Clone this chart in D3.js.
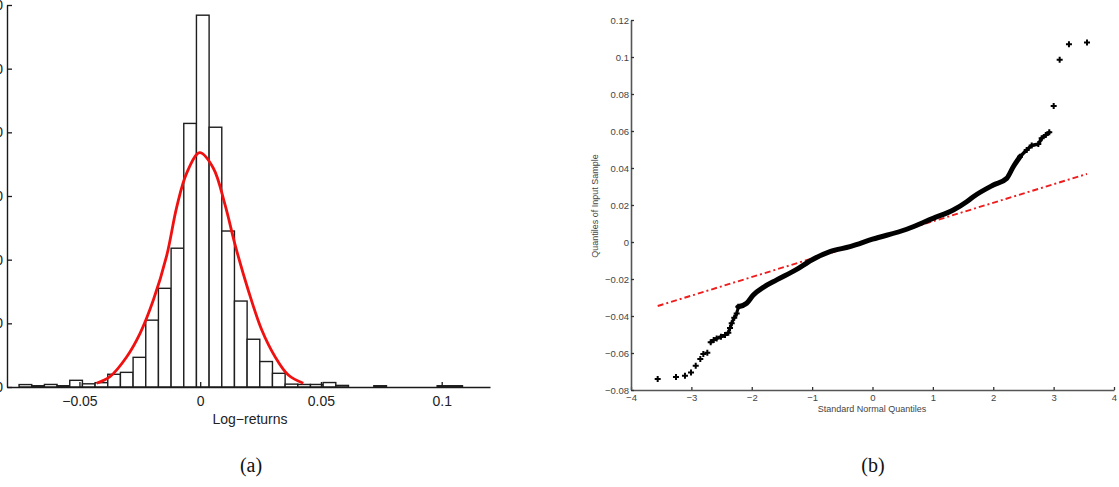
<!DOCTYPE html>
<html>
<head>
<meta charset="utf-8">
<script src="https://cdn.jsdelivr.net/npm/d3@7"></script>
<style>
  body { margin: 0; background: #fff; }
  svg { display: block; }
</style>
</head>
<body>
<div id="chart"></div>
<script>
"use strict";

// (a) histogram of log-returns, density per bin (35 equal bins)
let binStart = -0.0750;
let binWidth = 0.005246;
let binDensity = [0.38, 0.2, 0.4, 0.2, 1.05, 0.5, 0.68, 2.0, 2.3, 4.66,
                  10.5, 15.5, 21.8, 41.4, 58.4, 40.8, 24.5, 13.5, 7.5, 4.0,
                  2.15, 0.45, 0.4, 0.4, 0.7, 0.25, 0, 0, 0.2, 0,
                  0, 0, 0, 0.2, 0.2];

// fitted normal curve
let fitX = [-0.0429, -0.0374, -0.0304, -0.0249, -0.0194, -0.0139, -0.0097, -0.0056,
            -0.0002, 0.0054, 0.0103, 0.0144, 0.0199, 0.0255, 0.0310, 0.0365, 0.0427];
let fitY = [0.58, 1.62, 4.76, 8.43, 13.66, 20.6, 28.3, 33.6,
            36.8, 34.4, 28.6, 22.4, 15.2, 8.95, 4.76, 1.88, 0.58];

let histXTicks = [-0.05, 0, 0.05, 0.1];
let histXTickLabels = ["\u22120.05", "0", "0.05", "0.1"];
let histYTicks = [0, 10, 20, 30, 40, 50, 60];

// (b) normal QQ plot
let qqLowTailX = [-3.558, -3.255, -3.106, -3.006, -2.928, -2.852, -2.802, -2.736];
let qqLowTailY = [-0.0741, -0.0730, -0.0723, -0.0706, -0.0669, -0.0632, -0.0605, -0.0598];
let qqLowBodyX = [-2.680, -2.630, -2.581, -2.510, -2.443, -2.388, -2.360, -2.332, -2.290, -2.249, -2.222];
let qqLowBodyY = [-0.0542, -0.0530, -0.0521, -0.0512, -0.0503, -0.0490, -0.0465, -0.0439, -0.0410, -0.0386, -0.0350];
let qqMidX = [-2.222, -2.084, -1.974, -1.809, -1.587, -1.256, -1.007, -0.704, -0.373, 0.0,
              0.566, 1.002, 1.338, 1.560, 1.670, 2.001, 2.223, 2.332, 2.443];
let qqMidY = [-0.0350, -0.0331, -0.0286, -0.0245, -0.0205, -0.0148, -0.0097, -0.0052, -0.0025, 0.0015,
              0.0069, 0.0128, 0.0173, 0.0218, 0.0245, 0.0308, 0.0344, 0.0407, 0.0461];
let qqHighBodyX = [2.443, 2.554, 2.637, 2.746, 2.802, 2.870, 2.928];
let qqHighBodyY = [0.0461, 0.0497, 0.0521, 0.0530, 0.0561, 0.0578, 0.0593];
let qqHighTailX = [3.001, 3.100, 3.254, 3.553];
let qqHighTailY = [0.0735, 0.0985, 0.1069, 0.1079];

// reference line ends
let refLineX = [-3.558, 3.553];
let refLineY = [-0.0346, 0.0368];

let qqXTicks = [-4, -3, -2, -1, 0, 1, 2, 3, 4];
let qqYTicks = [-0.08, -0.06, -0.04, -0.02, 0, 0.02, 0.04, 0.06, 0.08, 0.1, 0.12];

let width = 1119, height = 487;

let svg = d3.select("#chart").append("svg")
  .attr("width", width)
  .attr("height", height);

// ---------- (a) histogram ----------
let hx = d3.scaleLinear().domain([-0.08, 0.12]).range([7, 490]);
let hy = d3.scaleLinear().domain([0, 60]).range([387, 5]);

let histG = svg.append("g");

histG.selectAll("rect.bin").data(binDensity)
  .enter().append("rect")
    .attr("class", "bin")
    .attr("x", function (d, i) { return hx(binStart + i * binWidth); })
    .attr("width", function (d, i) { return hx(binStart + (i + 1) * binWidth) - hx(binStart + i * binWidth); })
    .attr("y", function (d) { return hy(d); })
    .attr("height", function (d) { return hy(0) - hy(d); })
    .style("fill", "#fff")
    .style("stroke", d3.rgb(30, 30, 30))
    .style("stroke-width", 1.4);

let fitLine = d3.line()
  .x(function (d) { return hx(d[0]); })
  .y(function (d) { return hy(d[1]); })
  .curve(d3.curveCatmullRom.alpha(0.5));

histG.append("path")
  .datum(d3.zip(fitX, fitY))
  .attr("d", fitLine)
  .style("fill", "none")
  .style("stroke", "#f01010")
  .style("stroke-width", 2.8);

let histXAxis = d3.axisBottom(hx)
  .tickValues(histXTicks)
  .tickSize(-5)
  .tickSizeOuter(0)
  .tickPadding(9)
  .tickFormat(function (d, i) { return histXTickLabels[i]; });

let hxg = histG.append("g")
  .attr("transform", "translate(0," + hy(0) + ")")
  .call(histXAxis);

let histYAxis = d3.axisLeft(hy)
  .tickValues(histYTicks)
  .tickSize(-5)
  .tickSizeOuter(0)
  .tickPadding(4);

let hyg = histG.append("g")
  .attr("transform", "translate(" + hx(-0.08) + ",0)")
  .call(histYAxis);

[hxg, hyg].forEach(function (g) {
  g.select(".domain").style("stroke", "#1a1a1a").style("stroke-width", 1.4);
  g.selectAll(".tick line").style("stroke", "#1a1a1a").style("stroke-width", 1.3);
  g.selectAll("text")
    .style("font-family", "'Liberation Sans', Arial, sans-serif")
    .style("font-size", "14px")
    .style("fill", "#222");
});

histG.append("text")
  .attr("x", 250)
  .attr("y", 424)
  .attr("text-anchor", "middle")
  .style("font-family", "'Liberation Sans', Arial, sans-serif")
  .style("font-size", "14px")
  .style("fill", "#222")
  .text("Log\u2212returns");

// ---------- (b) QQ plot ----------
let qx = d3.scaleLinear().domain([-4, 4]).range([631, 1114]);
let qy = d3.scaleLinear().domain([-0.08, 0.12]).range([390, 20]);

let qqG = svg.append("g");

let qqXAxis = d3.axisBottom(qx)
  .tickValues(qqXTicks)
  .tickSize(-3)
  .tickSizeOuter(0)
  .tickPadding(4)
  .tickFormat(function (d) { return d < 0 ? "\u2212" + Math.abs(d) : String(d); });

let qqYAxis = d3.axisLeft(qy)
  .tickValues(qqYTicks)
  .tickSize(-3)
  .tickSizeOuter(0)
  .tickPadding(2)
  .tickFormat(function (d) {
    let s = String(+d.toFixed(2));
    return d < 0 ? "\u2212" + s.slice(1) : s;
  });

let qxg = qqG.append("g")
  .attr("transform", "translate(0," + qy(-0.08) + ")")
  .call(qqXAxis);

let qyg = qqG.append("g")
  .attr("transform", "translate(" + qx(-4) + ",0)")
  .call(qqYAxis);

[qxg, qyg].forEach(function (g) {
  g.select(".domain").style("stroke", "#555").style("stroke-width", 1.6);
  g.selectAll(".tick line").style("stroke", "#333").style("stroke-width", 1.3);
  g.selectAll("text")
    .style("font-family", "'Liberation Sans', Arial, sans-serif")
    .style("font-size", "9.5px")
    .style("fill", "#444");
});

qqG.append("text")
  .attr("x", 872)
  .attr("y", 412)
  .attr("text-anchor", "middle")
  .style("font-family", "'Liberation Sans', Arial, sans-serif")
  .style("font-size", "9px")
  .style("fill", "#444")
  .text("Standard Normal Quantiles");

qqG.append("text")
  .attr("transform", "translate(598,206) rotate(-90)")
  .attr("text-anchor", "middle")
  .style("font-family", "'Liberation Sans', Arial, sans-serif")
  .style("font-size", "9px")
  .style("fill", "#444")
  .text("Quantiles of Input Sample");

// reference line (dash-dot)
qqG.append("line")
  .attr("x1", qx(refLineX[0]))
  .attr("y1", qy(refLineY[0]))
  .attr("x2", qx(refLineX[1]))
  .attr("y2", qy(refLineY[1]))
  .style("stroke", "#ee1c1c")
  .style("stroke-width", 1.9)
  .style("stroke-dasharray", "6,3,2,3");

let qqLine = d3.line()
  .x(function (d) { return qx(d[0]); })
  .y(function (d) { return qy(d[1]); })
  .curve(d3.curveMonotoneX);

// dense parts of the sample drawn as a thick band
[[qqLowBodyX, qqLowBodyY, 3], [qqMidX, qqMidY, 5], [qqHighBodyX, qqHighBodyY, 3.5]].forEach(function (seg) {
  qqG.append("path")
    .datum(d3.zip(seg[0], seg[1]))
    .attr("d", qqLine)
    .style("fill", "none")
    .style("stroke", "#000")
    .style("stroke-linecap", "round")
    .style("stroke-width", seg[2]);
});

// individual "+" markers
let markerPts = d3.zip(qqLowTailX, qqLowTailY)
  .concat(d3.zip(qqLowBodyX, qqLowBodyY))
  .concat(d3.zip(qqHighBodyX, qqHighBodyY))
  .concat(d3.zip(qqHighTailX, qqHighTailY));

let plus = d3.symbol().type(d3.symbolCross).size(20);

qqG.selectAll("path.mark").data(markerPts)
  .enter().append("path")
    .attr("class", "mark")
    .attr("transform", function (d) { return "translate(" + qx(d[0]) + "," + qy(d[1]) + ")"; })
    .attr("d", plus)
    .style("fill", "#000");

// captions
svg.append("text")
  .attr("x", 251)
  .attr("y", 472)
  .attr("text-anchor", "middle")
  .style("font-family", "'Liberation Serif', 'Times New Roman', serif")
  .style("font-size", "20px")
  .style("fill", "#111")
  .text("(a)");

svg.append("text")
  .attr("x", 873)
  .attr("y", 472)
  .attr("text-anchor", "middle")
  .style("font-family", "'Liberation Serif', 'Times New Roman', serif")
  .style("font-size", "20px")
  .style("fill", "#111")
  .text("(b)");
</script>
</body>
</html>
